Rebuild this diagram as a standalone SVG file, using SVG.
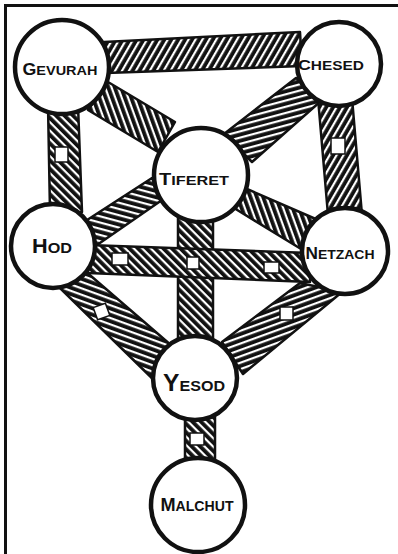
<svg xmlns="http://www.w3.org/2000/svg" width="398" height="554" viewBox="0 0 398 554">
<defs>
<pattern id="h" width="6" height="6" patternUnits="userSpaceOnUse"><rect width="6" height="6" fill="#111"/><rect y="2" width="6" height="2.2" fill="#fff"/></pattern>
<pattern id="hm60" href="#h" patternTransform="rotate(-60)"/>
<pattern id="h45" href="#h" patternTransform="rotate(45)"/>
<pattern id="h70" href="#h" patternTransform="rotate(70)"/>
<pattern id="hm15" href="#h" patternTransform="rotate(-15)"/>
<pattern id="h15" href="#h" patternTransform="rotate(15)"/>
<pattern id="h20" href="#h" patternTransform="rotate(20)"/>
<pattern id="hm20" href="#h" patternTransform="rotate(-20)"/>
</defs>
<style>
.bar{stroke:#111;stroke-width:2.5;stroke-linejoin:round}
.sq{fill:#fff;stroke:#111;stroke-width:1.5}
.node circle{fill:#fff;stroke:#111;stroke-width:4.5}
.node text{font-family:"Liberation Sans",Arial,sans-serif;font-weight:bold;fill:#111;text-anchor:middle}
</style>
<rect width="398" height="554" fill="#fff"/>
<path d="M5.5 554 V5.5 H398" fill="none" stroke="#111" stroke-width="3"/>
<g id="connectors">
<polygon class="bar" fill="url(#hm60)" points="104,42 300,32 302,66 106,73"/>
<polygon class="bar" fill="url(#h45)" points="48,105 78,105 82,212 50,212"/>
<polygon class="bar" fill="url(#h70)" points="108,82 175,122 158,152 88,110"/>
<polygon class="bar" fill="url(#hm15)" points="296,78 322,100 252,162 224,134"/>
<polygon class="bar" fill="url(#hm60)" points="318,98 352,98 362,215 328,215"/>
<polygon class="bar" fill="url(#h15)" points="84,222 152,178 162,200 97,245"/>
<polygon class="bar" fill="url(#h70)" points="240,186 318,220 306,252 234,208"/>
<polygon class="bar" fill="url(#h45)" points="178,210 213,210 213,342 178,342"/>
<polygon class="bar" fill="url(#h45)" points="88,245 310,253 310,282 88,273"/>
<polygon class="bar" fill="url(#h20)" points="84,270 172,346 160,386 60,288"/>
<polygon class="bar" fill="url(#hm20)" points="300,283 342,292 243,374 222,342"/>
<polygon class="bar" fill="url(#h45)" points="185,412 215,412 215,462 185,462"/>
<rect class="sq" x="55" y="147" width="13" height="15"/>
<rect class="sq" x="331" y="138" width="14" height="16"/>
<rect class="sq" x="187" y="257" width="12" height="12"/>
<rect class="sq" x="112" y="253" width="16" height="12"/>
<rect class="sq" x="264" y="262" width="15" height="11"/>
<rect class="sq" x="95" y="305" width="13" height="13" transform="rotate(-20 101.5 311.5)"/>
<rect class="sq" x="280" y="307" width="13" height="13"/>
<rect class="sq" x="190" y="433" width="14" height="12"/>
</g>
<g id="gevurah" class="node"><circle cx="62" cy="67" r="47"/><text x="60" y="75" font-size="13" textLength="75" lengthAdjust="spacingAndGlyphs"><tspan font-size="16">G</tspan>EVURAH</text></g>
<g id="chesed" class="node"><circle cx="339" cy="64" r="42"/><text x="331" y="70" font-size="13" textLength="66" lengthAdjust="spacingAndGlyphs"><tspan font-size="15">C</tspan>HESED</text></g>
<g id="tiferet" class="node"><circle cx="201" cy="175" r="47"/><text x="194" y="185" font-size="13" textLength="70" lengthAdjust="spacingAndGlyphs"><tspan font-size="16">T</tspan>IFERET</text></g>
<g id="hod" class="node"><circle cx="53" cy="246" r="42"/><text x="52" y="253" font-size="15" textLength="40" lengthAdjust="spacingAndGlyphs"><tspan font-size="20">H</tspan>OD</text></g>
<g id="netzach" class="node"><circle cx="345" cy="251" r="43"/><text x="340" y="259" font-size="13" textLength="69" lengthAdjust="spacingAndGlyphs"><tspan font-size="16">N</tspan>ETZACH</text></g>
<g id="yesod" class="node"><circle cx="195" cy="378" r="42"/><text x="194" y="391" font-size="15" textLength="62" lengthAdjust="spacingAndGlyphs"><tspan font-size="23">Y</tspan>ESOD</text></g>
<g id="malchut" class="node"><circle cx="198" cy="505" r="47"/><text x="197" y="511" font-size="14" textLength="73" lengthAdjust="spacingAndGlyphs"><tspan font-size="18">M</tspan>ALCHUT</text></g>
</svg>
